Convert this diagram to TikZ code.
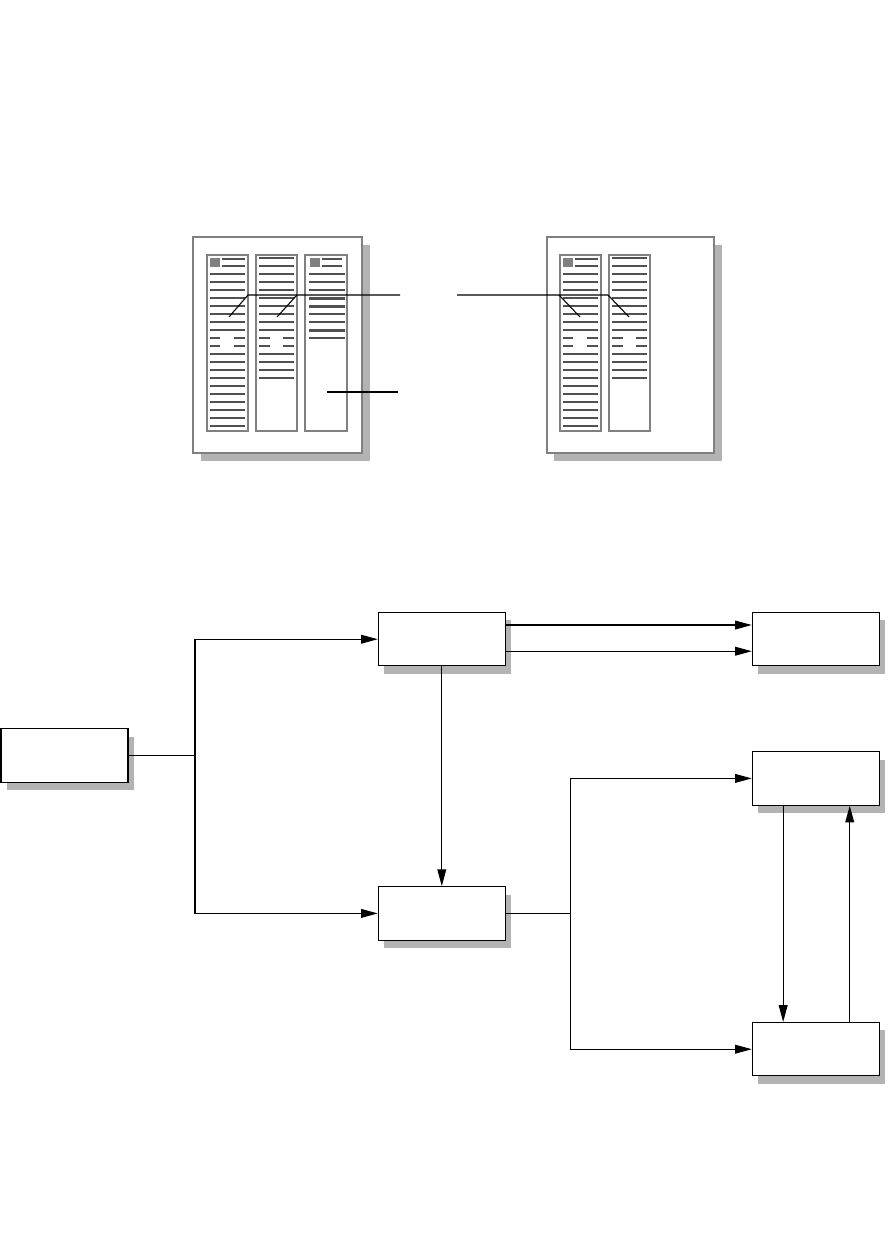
\documentclass[tikz,border=0pt]{standalone}
\usetikzlibrary{arrows.meta,shadows,calc}

\definecolor{shadowgray}{HTML}{B3B3B3}
\definecolor{framegray}{HTML}{808080}
\definecolor{inkgray}{HTML}{505050}

\begin{document}
\begin{tikzpicture}[x=0.02cm, y=-0.02cm,
    block/.style={rectangle, draw, line width=0.6pt, fill=white,
        minimum width=2.54cm, minimum height=1.07cm, inner sep=0pt,
        drop shadow={shadow xshift=0.12cm, shadow yshift=-0.16cm, opacity=1, fill=shadowgray}},
    arr/.style={line width=0.6pt, -{Triangle[length=9.5pt, width=5pt]}},
    wire/.style={line width=0.6pt},
    pageframe/.style={draw=framegray, line width=0.6pt, fill=white},
    column/.style={draw=framegray, line width=0.6pt},
    textline/.style={draw=inkgray, line width=1.15pt},
    boldline/.style={draw=inkgray, line width=1.5pt},
    callout/.style={line width=0.6pt}]

    \useasboundingbox (0,0) rectangle (888,1253);

    % left page, three columns
    \fill[shadowgray] (201,245) rectangle (370,461);
    \draw[pageframe] (193,237) rectangle (362,453);
    \draw[column] (207,255) rectangle (248,431);
    \draw[column] (256,255) rectangle (297,431);
    \draw[column] (305,255) rectangle (347,431);

    % right page, two columns
    \fill[shadowgray] (554,245) rectangle (722,461);
    \draw[pageframe] (547,237) rectangle (714,453);
    \draw[column] (560,255) rectangle (601,431);
    \draw[column] (609,255) rectangle (650,431);

    % long columns with a picture
    \foreach \L in {207,560} {
        \fill[framegray] (\L+3,258) rectangle (\L+13,267);
        \draw[textline] (\L+15,259) -- (\L+38,259);
        \draw[textline] (\L+15,266) -- (\L+38,266);
        \foreach \k in {2,...,9,12,13,...,21}
            \draw[textline] (\L+3,258.3+8*\k) -- (\L+38,258.3+8*\k);
        \foreach \k in {10,11} {
            \draw[textline] (\L+3,258.3+8*\k) -- (\L+13,258.3+8*\k);
            \draw[textline] (\L+27,258.3+8*\k) -- (\L+38,258.3+8*\k);
        }
    }

    % short columns
    \foreach \L in {256,609} {
        \foreach \k in {0,...,9,12,13,14,15}
            \draw[textline] (\L+3,258.3+8*\k) -- (\L+38,258.3+8*\k);
        \foreach \k in {10,11} {
            \draw[textline] (\L+3,258.3+8*\k) -- (\L+14,258.3+8*\k);
            \draw[textline] (\L+27,258.3+8*\k) -- (\L+38,258.3+8*\k);
        }
    }

    % third column of the left page
    \fill[framegray] (310,258) rectangle (320,267);
    \draw[textline] (322,259) -- (342,259);
    \draw[textline] (322,266) -- (342,266);
    \foreach \k in {2,3,4,7,8,10}
        \draw[textline] (309,258.3+8*\k) -- (345,258.3+8*\k);
    \foreach \k in {5,6,9}
        \draw[boldline] (309,258.3+8*\k) -- (345,258.3+8*\k);

    % callouts
    \coordinate (c1a) at (229,317);
    \coordinate (c1b) at (248,295);
    \coordinate (c2a) at (277,317);
    \coordinate (c2b) at (297,295);
    \coordinate (cl1) at (400,295);
    \coordinate (cr1) at (457,295);
    \coordinate (c3b) at (559,295);
    \coordinate (c3a) at (580,317);
    \coordinate (c4b) at (608,295);
    \coordinate (c4a) at (629,317);
    \coordinate (c5a) at (327,392);
    \coordinate (cl2) at (398,392);

    \draw[callout] (c1a) -- (c1b) -- (cl1);
    \draw[callout] (c2a) -- (c2b);
    \draw[callout] (cr1) -- (c4b) -- (c4a);
    \draw[callout] (c3b) -- (c3a);
    \draw[callout] (c5a) -- (cl2);

    % flow blocks
    \node[block] at (64.5,755.3) (src) {};
    \node[block] at (441.8,639.2) (upper) {};
    \node[block] at (441.8,913.4) (lower) {};
    \node[block] at (815.8,639.2) (out) {};
    \node[block] at (815.8,778.4) (loopA) {};
    \node[block] at (815.8,1049.2) (loopB) {};

    \coordinate (jsrc) at (195,755.3);
    \coordinate (jlow) at (570.5,913.4);

    \draw[wire] (src.east) -- (jsrc);
    \draw[arr] (jsrc) |- (upper.west);
    \draw[arr] (jsrc) |- (lower.west);

    \draw[arr] ($(upper.north east)!0.24!(upper.south east)$) -- ($(out.north west)!0.24!(out.south west)$);
    \draw[arr] ($(upper.north east)!0.72!(upper.south east)$) -- ($(out.north west)!0.72!(out.south west)$);
    \draw[arr] (upper.south) -- (lower.north);

    \draw[wire] (lower.east) -- (jlow);
    \draw[arr] (jlow) |- (loopA.west);
    \draw[arr] (jlow) |- (loopB.west);

    \draw[arr] ($(loopA.south west)!0.245!(loopA.south east)$) -- ($(loopB.north west)!0.245!(loopB.north east)$);
    \draw[arr] ($(loopB.north west)!0.765!(loopB.north east)$) -- ($(loopA.south west)!0.765!(loopA.south east)$);
\end{tikzpicture}
\end{document}
